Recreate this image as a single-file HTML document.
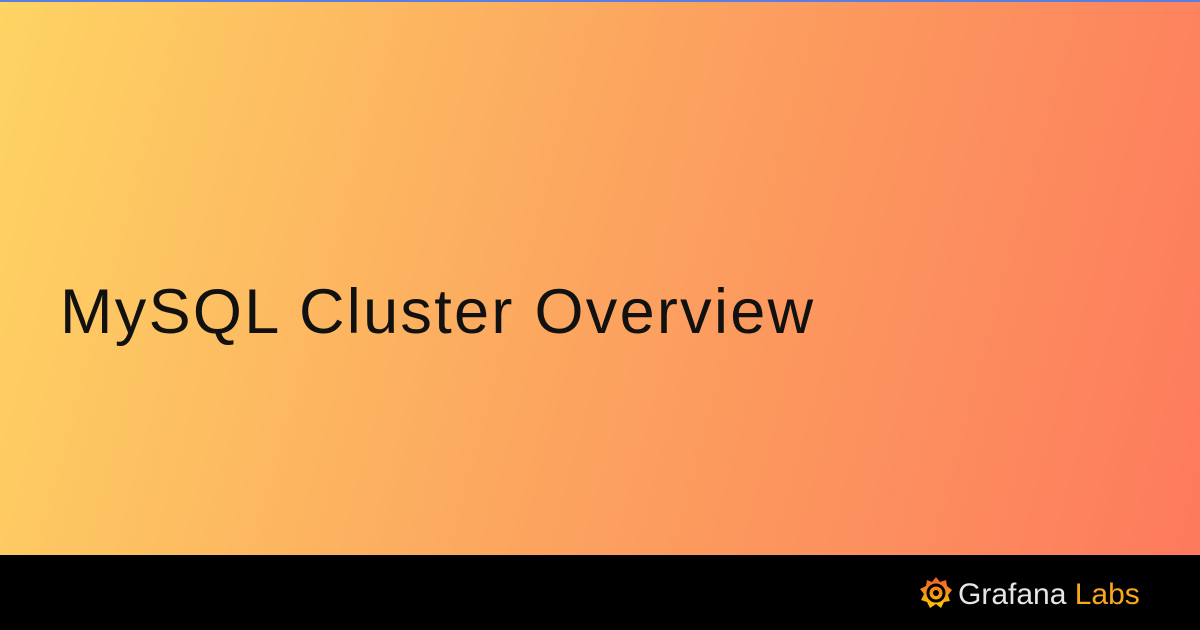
<!DOCTYPE html>
<html><head><meta charset="utf-8"><style>
html,body{margin:0;padding:0}
body{width:1200px;height:630px;position:relative;overflow:hidden;font-family:"Liberation Sans",sans-serif}
.bg{position:absolute;left:0;top:0;width:1200px;height:555px;background:linear-gradient(105deg,#fed463 0%,#fca45f 50%,#fd7a5d 100%)}
.top{position:absolute;left:0;top:0;width:1200px;height:2px;background:#5b7fe0}
.foot{position:absolute;left:0;top:555px;width:1200px;height:75px;background:#000}
h1{position:absolute;left:60px;top:276px;margin:0;font-weight:400;font-size:63px;color:#111;letter-spacing:2.3px;white-space:nowrap}
.logo{position:absolute;left:958px;top:578px;font-size:30px;color:#e6e6e6;white-space:nowrap}
.logo span{color:#f9a81c}
</style></head><body>
<div class="bg"></div><div class="top"></div>
<h1>MySQL Cluster Overview</h1>
<div class="foot"></div>
<svg style="position:absolute;left:918px;top:574px" width="36" height="38" viewBox="0 0 36 38">
<defs><linearGradient id="g" x1="0" y1="1" x2="0" y2="0"><stop offset="0" stop-color="#fbca0a"/><stop offset="1" stop-color="#f05a28"/></linearGradient></defs>
<path d="M18 3 L22 8 L28 6 L29 12 L34 16 L30 21 L32 27 L26 28 L23 34 L18 30 L12 34 L9 28 L3 26 L6 20 L2 15 L8 12 L9 6 L14 8 Z" fill="url(#g)"/>
<circle cx="18" cy="19" r="8" fill="none" stroke="#000" stroke-width="3"/>
<circle cx="18" cy="19" r="3" fill="#000"/>
</svg>
<div class="logo">Grafana <span>Labs</span></div>
</body></html>
